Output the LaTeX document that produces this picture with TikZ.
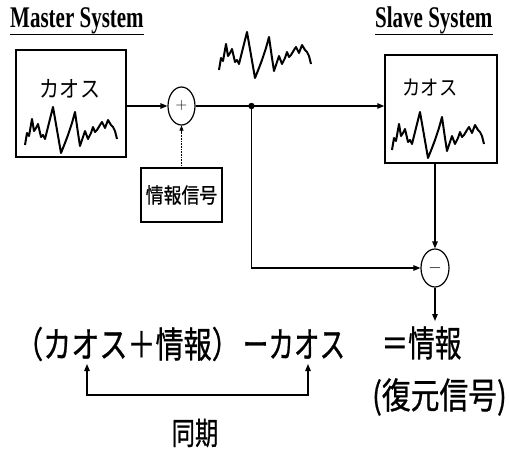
\documentclass[tikz,border=0pt]{standalone}
\usepackage{fontspec}
\usepackage{graphicx}
\newfontfamily\jp{Noto Sans CJK JP}
\newfontfamily\jpb{Noto Sans CJK JP}[FakeBold=0.8]
\newfontfamily\titlefont{Liberation Serif}
\usetikzlibrary{arrows.meta,shapes.geometric}
\newcommand\sxs[2]{\scalebox{#1}[1]{#2}}
\tikzset{
  boxnode/.style={draw,line width=1.5pt,inner sep=0pt},
  sumnode/.style={draw,ellipse,line width=1.2pt,inner sep=0pt},
  conn/.style={line width=1.2pt},
  arr/.style={conn,-{Triangle[length=7pt,width=5.5pt]}},
  wavel/.style={line width=2pt,line join=round},
  txt/.style={inner sep=0pt,anchor=center},
  ttl/.style={inner sep=0pt,anchor=base west,font=\titlefont\bfseries\fontsize{30}{30}\selectfont},
  pics/chaoswave/.style={code={\draw[wavel] (0,0)--(2,-12)--(4,-9)--(7,-26)--(9,-14)--(11,-17)--(13,-21)--(16,-8)--(18,-10)--(20,-6)--(24,-22)--(28,-38)--(32,-15)--(36,8)--(40,-2)--(43,-10)--(47,-22)--(50,-33)--(53,-12)--(55,1)--(58,-8)--(60,-14)--(63,-6)--(66,-12)--(68,-18)--(70,-13)--(72,-15)--(75,-20)--(77,-23)--(80,-17)--(83,-25)--(86,-20)--(88,-18)--(90,-14)--(92,-6);}}
}
\begin{document}
\begin{tikzpicture}[x=1pt,y=-1pt]
\useasboundingbox[fill=white] (0,0) rectangle (509,453);
% titles
\node[ttl] (mt) at (10,27) {\sxs{0.7}{Master System}};
\draw[line width=1pt] ([yshift=-1pt]mt.south west) -- ([yshift=-1pt]mt.south east);
\node[ttl] (st) at (375,27) {\sxs{0.7}{Slave System}};
\draw[line width=1pt] ([yshift=-1pt]st.south west) -- ([yshift=-1pt]st.south east);
% master box
\node[boxnode,minimum width=110pt,minimum height=107pt] (mbox) at (71,103.5) {};
\node[txt,font=\jp\fontsize{23}{23}\selectfont] (mk) at (70,89) {\sxs{0.87}{カオス}};
\pic at (25,145) {chaoswave};
% middle wave
\pic at (219,70) {chaoswave};
% slave box
\node[boxnode,minimum width=112pt,minimum height=108pt] (sbox) at (441,109) {};
\node[txt,font=\jp\fontsize{21}{21}\selectfont] (sk) at (430,88) {\sxs{0.87}{カオス}};
\pic at (392,150) {chaoswave};
% sum nodes
\node[sumnode,minimum width=27pt,minimum height=38pt] (plus) at (181.5,106) {\fontsize{16}{16}\selectfont +};
\node[sumnode,minimum width=28pt,minimum height=38pt] (minus) at (435,268) {\fontsize{17}{17}\selectfont $-$};
% info box
\node[boxnode,minimum width=81pt,minimum height=54pt] (info) at (181.5,195) {\jpb\fontsize{21}{21}\selectfont\sxs{0.85}{情報信号}};
% connectors
\coordinate (dot) at (251.5,106);
\coordinate (out) at (435,321);
\draw[arr] (mbox.east |- plus.west) -- (plus.west);
\draw[conn] (plus.east) -- (dot);
\draw[arr] (dot) -- (sbox.west |- dot);
\draw[arr] (dot) |- (minus.west);
\draw[arr] (minus |- sbox.south) -- (minus.north);
\draw[arr] (minus.south) -- (out);
\draw[line width=0.6pt,densely dotted] (info.north) -- ([yshift=-6pt]plus.south);
\draw[line width=0.6pt,-{Triangle[length=5pt,width=4pt]}] ([yshift=-6pt]plus.south) -- (plus.south);
\fill (dot) circle (3.2pt);
% bottom formula
\node[txt,font=\jpb\fontsize{36}{36}\selectfont] (t1) at (127.5,344) {\sxs{0.78}{（カオス＋情報）}};
\node[txt,font=\jpb\fontsize{36}{36}\selectfont] (t2) at (294,344) {\sxs{0.71}{ーカオス}};
\node[txt,font=\jpb\fontsize{36}{36}\selectfont] (t3) at (421.5,343) {\sxs{0.74}{＝情報}};
\node[txt,anchor=east,font=\jpb\fontsize{36}{36}\selectfont] (t4) at (507,397) {\sxs{0.8}{(復元信号)}};
\node[txt,font=\jpb\fontsize{31}{31}\selectfont] (sync) at (195,433) {\sxs{0.75}{同期}};
\coordinate (sl) at (87,364);
\coordinate (sr) at (308,364);
\coordinate (bl) at (87,395);
\coordinate (br) at (308,395);
\draw[conn,{Triangle[length=7pt,width=5.5pt]}-{Triangle[length=7pt,width=5.5pt]}] (sl) -- (bl) -- (br) -- (sr);
\end{tikzpicture}
\end{document}
